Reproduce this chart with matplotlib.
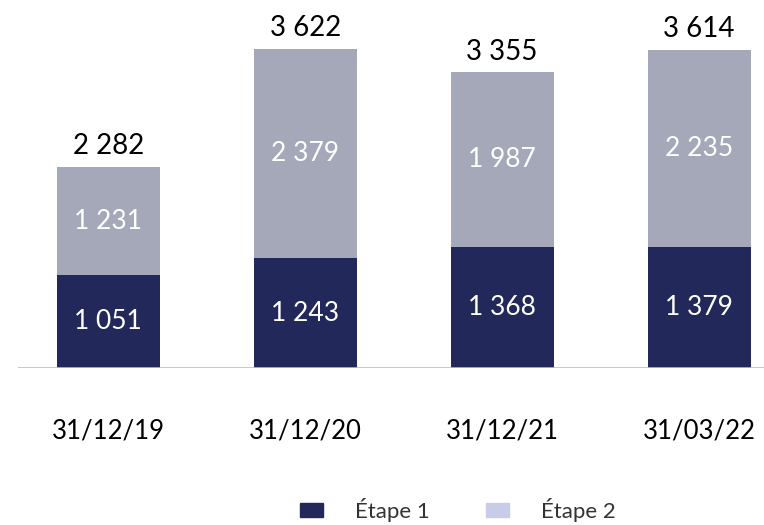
import matplotlib.pyplot as plt
from matplotlib.patches import Patch
import numpy as np

dates = ["31/12/19", "31/12/20", "31/12/21", "31/03/22"]
etape1 = [1051, 1243, 1368, 1379]
etape2 = [1231, 2379, 1987, 2235]
totals = [2282, 3622, 3355, 3614]

c1 = "#23285b"
c2 = "#a5a8b9"
c2_legend = "#c8cce8"


def fmt(v):
    return "{:,}".format(v).replace(",", " ")


plt.rcParams['font.family'] = ['Lato', 'DejaVu Sans']

fig = plt.figure(figsize=(7.64, 5.25), dpi=100)
ax = fig.add_axes([18 / 764, 157 / 525, 746 / 764, 368 / 525])

x = np.arange(len(dates))
w = 0.523
ax.bar(x, etape1, w, color=c1)
ax.bar(x, etape2, w, bottom=etape1, color=c2)

for i in range(len(dates)):
    ax.text(x[i], etape1[i] / 2, fmt(etape1[i]), ha="center", va="center",
            color="white", fontsize=19)
    ax.text(x[i], etape1[i] + etape2[i] / 2, fmt(etape2[i]), ha="center",
            va="center", color="white", fontsize=19)
    ax.text(x[i], totals[i] + 85, fmt(totals[i]), ha="center", va="bottom",
            color="black", fontsize=20)

ax.set_xlim(-0.459, 3.33)
ax.set_ylim(0, 4177)
ax.axhline(0, color="#bfbfbf", lw=1.2)
for s in ax.spines.values():
    s.set_visible(False)
ax.set_yticks([])
ax.set_xticks(x)
ax.set_xticklabels(dates, fontsize=18.5)
ax.tick_params(axis="x", length=0, pad=36)

handles = [Patch(color=c1), Patch(color=c2_legend)]
fig.legend(handles, ["Étape 1", "Étape 2"], loc="center", ncol=2,
           bbox_to_anchor=(458 / 764, 1 - 510 / 525), frameon=False,
           fontsize=16, handlelength=1.05, handleheight=0.6,
           handletextpad=1.45, columnspacing=2.5, labelcolor="#333333")

fig.savefig("out.png", dpi=100)
